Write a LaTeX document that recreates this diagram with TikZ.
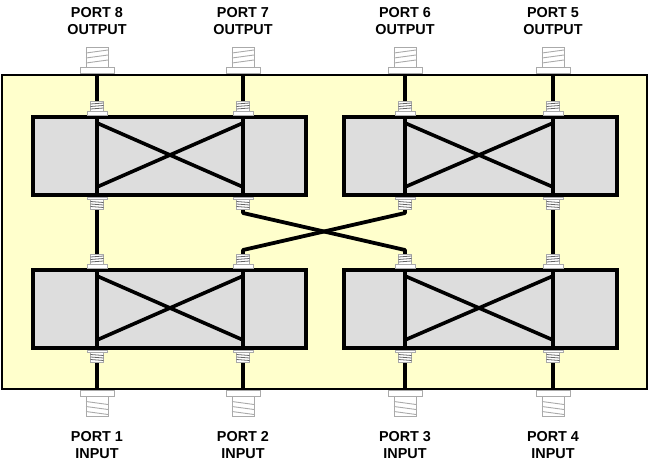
\documentclass[tikz,border=0pt]{standalone}
\usepackage{fontspec}
\setmainfont{Liberation Sans}
\usetikzlibrary{calc}
\definecolor{boardfill}{HTML}{FFFFCC}
\definecolor{hybfill}{HTML}{DDDDDD}
\definecolor{threadgray}{HTML}{AAAAAA}
\tikzset{
  board/.style={draw,fill=boardfill,line width=2.2pt,outer sep=0pt},
  hyb/.style={draw,fill=hybfill,line width=3.6pt,outer sep=0pt},
  wire/.style={line width=3.8pt,line join=round},
  cross/.style={line width=3.6pt},
  lbl/.style={align=center,font=\fontsize{14.4}{17}\selectfont\bfseries,inner sep=0pt},
  flange/.style={draw=threadgray,fill=white,line width=0.9pt},
  thread/.style={draw=threadgray,line width=0.9pt},
  bigup/.pic={
    \draw[flange] (-17,0) rectangle (17,-6);
    \draw[flange] (-11,-6) rectangle (11,-26);
    \foreach \t in {-10,-15,-20}{\draw[thread] (-11,\t) -- (11,\t-3);}},
  bigdn/.pic={
    \draw[flange] (-17,0) rectangle (17,6);
    \draw[flange] (-11,6) rectangle (11,26);
    \foreach \t in {11,16,21}{\draw[thread] (-11,\t) -- (11,\t+3);}},
  smallup/.pic={
    \draw[flange] (-10,0) rectangle (10,-3.5);
    \draw[flange,fill=white] (-6.5,-3.5) rectangle (6.5,-13.5);
    \foreach \t in {-6,-8.5,-11}{\draw[line width=0.8pt,draw=black!60] (-6.5,\t) -- (6.5,\t-1);}},
  smalldn/.pic={
    \draw[flange] (-10,0) rectangle (10,2.5);
    \draw[flange,fill=white] (-6.5,2.5) rectangle (6.5,12.5);
    \foreach \t in {4.5,7,9.5}{\draw[line width=0.8pt,draw=black!60] (-6.5,\t) -- (6.5,\t+1);}},
}

\begin{document}
\begin{tikzpicture}[x=1pt,y=-1pt]
\useasboundingbox (0,0) rectangle (650,470);
\node[board,minimum width=645pt,minimum height=314pt,anchor=north west,inner sep=0pt] (pcb) at (2,75){};
% hybrids
\foreach \n/\l/\t in {a/33/117,b/344/117,c/33/270,d/344/270}{%
 \node[hyb,minimum width=273pt,minimum height=78pt,anchor=north west,inner sep=0pt] (\n) at (\l,\t){};}
\foreach \n/\x/\r/\y in {a/97/243/117,b/405/553/117,c/97/243/270,d/405/553/270}{%
 \coordinate (\n tl) at (\x,\y);
 \coordinate (\n tr) at (\r,\y);
 \coordinate (\n bl) at (\x,\y+78);
 \coordinate (\n br) at (\r,\y+78);
 \draw[wire] (\n tl) -- (\n bl);
 \draw[wire] (\n tr) -- (\n br);
 \draw[cross] ($(\n tl)+(0,6)$) -- ($(\n br)+(0,-8)$);
 \draw[cross] ($(\n bl)+(0,-8)$) -- ($(\n tr)+(0,6)$);}
% straight wires
\foreach \n/\x/\p/\s in {8/97/a/tl,7/243/a/tr,6/405/b/tl,5/553/b/tr}{%
 \coordinate (top\n) at (\x,75);
 \draw[wire] (top\n) -- (\p\s);
 \path (\x,73) pic {bigup};
 \path (\p\s)+(0,-2) pic {smallup};
 \node[lbl] (port\n) at (\x,21.5) {PORT \n\\OUTPUT};}
\foreach \n/\x/\p/\s in {1/97/c/bl,2/243/c/br,3/405/d/bl,4/553/d/br}{%
 \coordinate (bot\n) at (\x,389);
 \draw[wire] (\p\s) -- (bot\n);
 \path (\x,390.5) pic {bigdn};
 \path (\p\s)+(0,2) pic {smalldn};
 \node[lbl] (port\n) at (\x,445.5) {PORT \n\\INPUT};}
% links between the rows
\draw[wire] (ctl |- 0,209) -- (ctl |- 0,255);
\draw[wire] (dtr |- 0,209) -- (dtr |- 0,255);
\draw[wire] (ctr |- 0,209) -- (ctr |- 0,213) -- (dtl |- 0,250) -- (dtl |- 0,255);
\draw[wire] (dtl |- 0,209) -- (dtl |- 0,213) -- (ctr |- 0,250) -- (ctr |- 0,255);
\foreach \n/\s in {a/bl,a/br,b/bl,b/br}{\path (\n\s)+(0,2) pic {smalldn};}
\foreach \n/\s in {c/tl,c/tr,d/tl,d/tr}{\path (\n\s)+(0,-2) pic {smallup};}
\end{tikzpicture}
\end{document}
